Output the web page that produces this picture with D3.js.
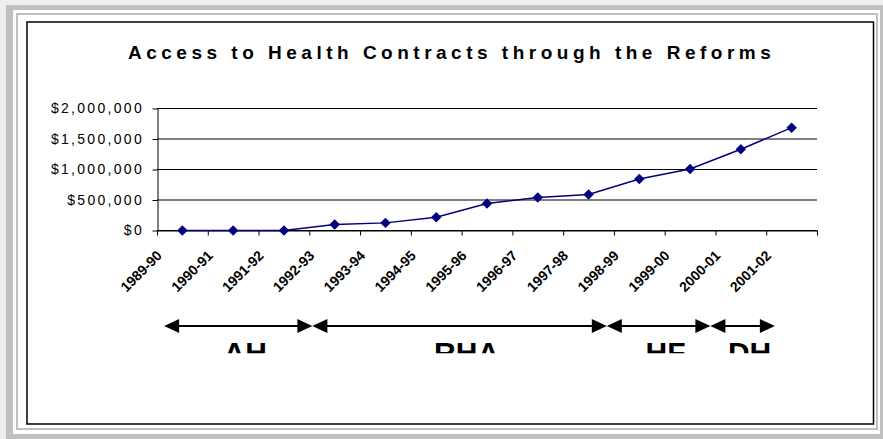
<!DOCTYPE html>
<html lang="en">
<head>
  <script src="https://d3js.org/d3.v7.min.js"></script>
  <style>
    body {
      margin: 0;
      font-family: "Liberation Sans", Arial, sans-serif;
    }

    .axis path,
    .axis line {
      fill: none;
      stroke: #000;
    }

    .axis text {
      font: 14px "Liberation Sans", Arial, sans-serif;
      letter-spacing: 2.3px;
      fill: #000;
    }
  </style>
</head>
<body>
<div id="chart"></div>
<script>
  // values
  var categories = ["1989-90", "1990-91", "1991-92", "1992-93", "1993-94", "1994-95", "1995-96",
                    "1996-97", "1997-98", "1998-99", "1999-00", "2000-01", "2001-02"];
  var contracts = [0, 0, 0, 98000, 125000, 216000, 444000, 541000, 592000, 845000, 1008000, 1333000, 1686000];
  var yTicks = [0, 500000, 1000000, 1500000, 2000000];

  // reform periods, measured in category positions along the x axis
  var periods = ["AH", "RHA", "HF", "DH"];
  var periodStart = [0.14, 3.06, 8.86, 10.9];
  var periodEnd = [3.06, 8.86, 10.9, 12.17];

  var width = 883, height = 439;
  var plotLeft = 157, plotRight = 817, plotTop = 108.5, plotBottom = 230.5;

  var svg = d3.select("#chart").append("svg")
          .attr("width", width)
          .attr("height", height)
          .style("display", "block");

  // frame
  svg.append("rect").attr("width", width).attr("height", height).attr("fill", "#eeeeee");
  svg.append("rect").attr("x", 6).attr("y", 5).attr("width", width - 6).attr("height", height - 5).attr("fill", "#c0c0c0");
  svg.append("rect").attr("x", 13).attr("y", 10).attr("width", 867).attr("height", 424).attr("fill", "#fff");
  svg.append("rect").attr("x", 17).attr("y", 14).attr("width", 860).attr("height", 415)
          .attr("fill", "none").attr("stroke", "#c0c0c0").attr("stroke-width", 2);
  svg.append("rect").attr("x", 27).attr("y", 22).attr("width", 846.5).attr("height", 402)
          .attr("fill", "#fff").attr("stroke", "#000").attr("stroke-width", 1.5);

  svg.append("text")
          .attr("x", 128)
          .attr("y", 59)
          .style("font", "bold 19px 'Liberation Sans', Arial, sans-serif")
          .style("letter-spacing", "4.5px")
          .text("Access to Health Contracts through the Reforms");

  var x = d3.scaleBand().domain(categories).range([plotLeft, plotRight]);
  var xi = d3.scaleLinear().domain([0, categories.length]).range([plotLeft, plotRight]);
  var y = d3.scaleLinear().domain([0, 2000000]).range([plotBottom, plotTop]);

  // gridlines
  svg.append("g").selectAll("line")
          .data(yTicks).enter()
          .append("line")
          .attr("x1", plotLeft)
          .attr("x2", plotRight)
          .attr("y1", function(d) { return y(d); })
          .attr("y2", function(d) { return y(d); })
          .attr("stroke", "#000")
          .attr("stroke-width", 1);

  var yAxis = d3.axisLeft(y)
          .tickValues(yTicks)
          .tickSize(5)
          .tickSizeOuter(0)
          .tickPadding(8.5)
          .tickFormat(d3.format("$,"));

  svg.append("g")
          .attr("class", "axis")
          .attr("transform", "translate(" + (plotLeft + 0.5) + ",0)")
          .call(yAxis);

  var xAxis = d3.axisBottom(xi)
          .tickValues(d3.range(categories.length + 1))
          .tickSize(5)
          .tickSizeOuter(0)
          .tickFormat("");

  svg.append("g")
          .attr("class", "axis")
          .attr("transform", "translate(0," + plotBottom + ")")
          .call(xAxis);

  svg.append("g").selectAll("text")
          .data(categories).enter()
          .append("text")
          .attr("text-anchor", "end")
          .attr("transform", function(d) {
            return "translate(" + (x(d) + x.bandwidth() / 2 - 19.5) + ",256.5) rotate(-45)";
          })
          .style("font", "bold 14px 'Liberation Sans', Arial, sans-serif")
          .text(function(d) { return d; });

  // series
  var line = d3.line()
          .x(function(d, i) { return x(categories[i]) + x.bandwidth() / 2; })
          .y(function(d) { return y(d); });

  svg.append("path")
          .datum(contracts)
          .attr("d", line)
          .attr("fill", "none")
          .attr("stroke", "#000080")
          .attr("stroke-width", 1.5);

  svg.append("g").selectAll("path")
          .data(contracts).enter()
          .append("path")
          .attr("d", d3.symbol(d3.symbolSquare, 55))
          .attr("transform", function(d, i) {
            return "translate(" + (x(categories[i]) + x.bandwidth() / 2) + "," + y(d) + ") rotate(45)";
          })
          .attr("fill", "#000080");

  // reform period arrows
  var arrowY = 326, headLen = 15, headHalf = 7;
  var arrows = svg.append("g");
  periods.forEach(function(p, i) {
    var a = xi(periodStart[i]), b = xi(periodEnd[i]);
    arrows.append("line")
            .attr("x1", a + headLen - 1).attr("x2", b - headLen + 1)
            .attr("y1", arrowY).attr("y2", arrowY)
            .attr("stroke", "#000").attr("stroke-width", 2);
    arrows.append("path")
            .attr("d", "M" + a + "," + arrowY + "L" + (a + headLen) + "," + (arrowY - headHalf) +
                    "L" + (a + headLen) + "," + (arrowY + headHalf) + "Z")
            .attr("fill", "#000");
    arrows.append("path")
            .attr("d", "M" + b + "," + arrowY + "L" + (b - headLen) + "," + (arrowY - headHalf) +
                    "L" + (b - headLen) + "," + (arrowY + headHalf) + "Z")
            .attr("fill", "#000");
  });

  svg.append("defs").append("clipPath")
          .attr("id", "labelClip")
          .append("rect")
          .attr("x", 0).attr("y", 330)
          .attr("width", width).attr("height", 23.3);

  svg.append("g")
          .attr("clip-path", "url(#labelClip)")
          .selectAll("text")
          .data(periods).enter()
          .append("text")
          .attr("text-anchor", "middle")
          .attr("x", function(d, i) { return (xi(periodStart[i]) + xi(periodEnd[i])) / 2 + 7; })
          .attr("y", 363)
          .style("font", "bold 30px 'Liberation Sans', Arial, sans-serif")
          .text(function(d) { return d; });
</script>
</body>
</html>
